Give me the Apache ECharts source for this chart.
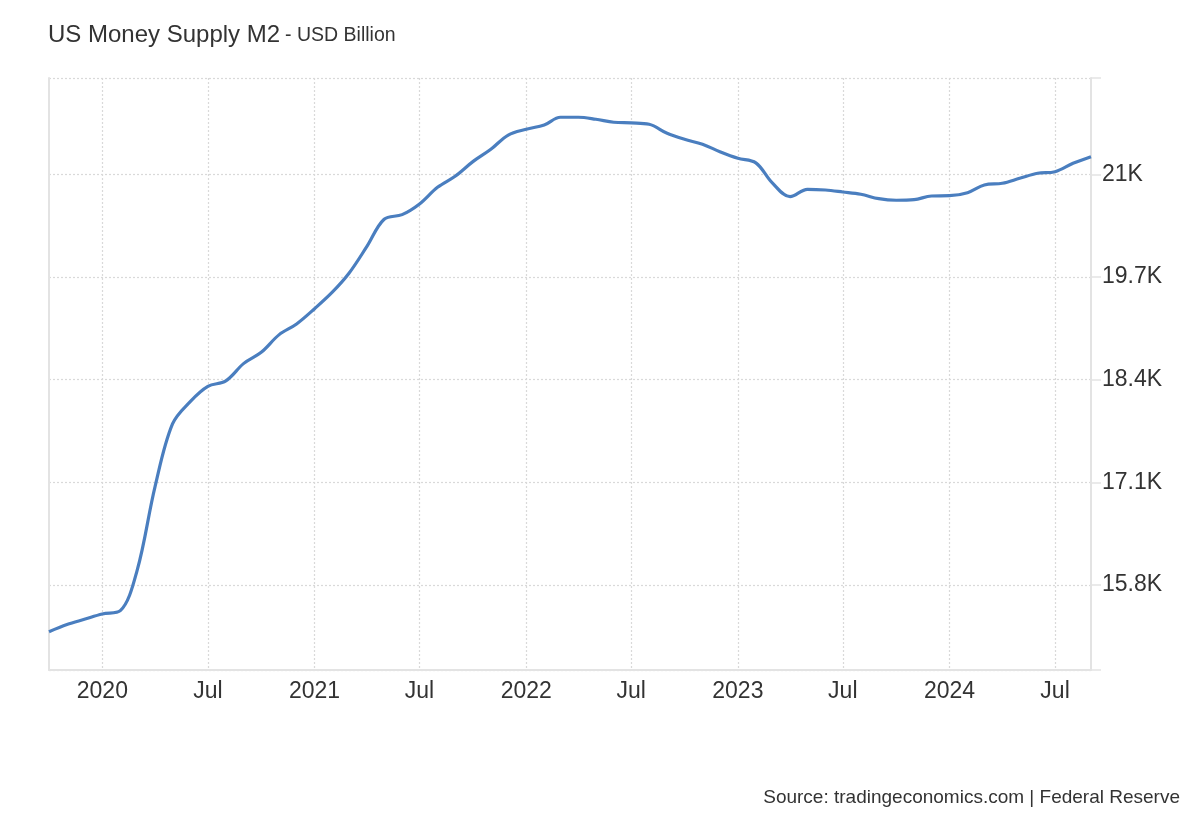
<!DOCTYPE html>
<html>
<head>
<meta charset="utf-8">
<script src="https://cdn.jsdelivr.net/npm/echarts@6/dist/echarts.min.js"></script>
<style>
html,body{margin:0;padding:0;background:#fff;}
#chart{width:1200px;height:820px;}
</style>
</head>
<body>
<div id="chart"></div>
<script>
// Monthly dates (month start) and M2 values in USD Billion
var months = [
  '2019-10-01','2019-11-01','2019-12-01',
  '2020-01-01','2020-02-01','2020-03-01','2020-04-01','2020-05-01','2020-06-01',
  '2020-07-01','2020-08-01','2020-09-01','2020-10-01','2020-11-01','2020-12-01',
  '2021-01-01','2021-02-01','2021-03-01','2021-04-01','2021-05-01','2021-06-01',
  '2021-07-01','2021-08-01','2021-09-01','2021-10-01','2021-11-01','2021-12-01',
  '2022-01-01','2022-02-01','2022-03-01','2022-04-01','2022-05-01','2022-06-01',
  '2022-07-01','2022-08-01','2022-09-01','2022-10-01','2022-11-01','2022-12-01',
  '2023-01-01','2023-02-01','2023-03-01','2023-04-01','2023-05-01','2023-06-01',
  '2023-07-01','2023-08-01','2023-09-01','2023-10-01','2023-11-01','2023-12-01',
  '2024-01-01','2024-02-01','2024-03-01','2024-04-01','2024-05-01','2024-06-01',
  '2024-07-01','2024-08-01','2024-09-01'
];
var m2Values = [
  15209, 15300, 15366,
  15433, 15475, 15985, 17049, 17839, 18125,
  18315, 18385, 18606, 18746, 18970, 19105,
  19298, 19510, 19743, 20083, 20430, 20489,
  20624, 20835, 20978, 21160, 21316, 21497,
  21570, 21624, 21722, 21722, 21697, 21659,
  21650, 21633, 21519, 21443, 21380, 21286,
  21203, 21145, 20894, 20716, 20810, 20801,
  20776, 20747, 20691, 20671, 20679, 20725,
  20729, 20767, 20865, 20886, 20949, 21013,
  21033, 21139, 21223
];
// Axis ticks
var yTickValues = [15800, 17100, 18400, 19700, 21000];
var yMin = 14724, yMax = 22219;
var xTickDates = ['2020-01-01','2020-07-01','2021-01-01','2021-07-01','2022-01-01',
                  '2022-07-01','2023-01-01','2023-07-01','2024-01-01','2024-07-01'];
var titleText = 'US Money Supply M2';
var subText = '- USD Billion';
var sourceText = 'Source: tradingeconomics.com | Federal Reserve';

function ts(s){ var p = s.split('-'); return Date.UTC(+p[0], +p[1]-1, +p[2]); }

var seriesData = months.map(function(d, i){ return [ts(d), m2Values[i]]; });
var xTicks = xTickDates.map(ts);
var FONT = '"Liberation Sans", Arial, Helvetica, sans-serif';
var gridColor = '#d9d9d9';
var axisColor = '#e3e3e3';

var chart = echarts.init(document.getElementById('chart'), null, {renderer: 'canvas'});
chart.setOption({
  backgroundColor: '#ffffff',
  animation: false,
  title: [{
    text: '{a|' + titleText + '} {b|' + subText + '}',
    left: 43, top: 16,
    textStyle: {
      fontFamily: FONT,
      fontWeight: 'normal',
      rich: {
        a: {fontSize: 24, color: '#333333', fontFamily: FONT, fontWeight: 'normal', verticalAlign: 'bottom', lineHeight: 26},
        b: {fontSize: 19.5, color: '#333333', fontFamily: FONT, fontWeight: 'normal', verticalAlign: 'bottom', lineHeight: 26, padding: [0,0,1,0]}
      }
    }
  }, {
    text: sourceText,
    right: 15, top: 783,
    textStyle: {fontFamily: FONT, fontSize: 19, fontWeight: 'normal', color: '#333333'}
  }],
  grid: {left: 49, right: 109, top: 78, bottom: 150, containLabel: false},
  xAxis: {
    type: 'value',
    min: seriesData[0][0],
    max: seriesData[seriesData.length - 1][0],
    axisLine: {show: true, lineStyle: {color: axisColor, width: 2}},
    axisTick: {show: false, customValues: xTicks},
    axisLabel: {
      customValues: xTicks,
      color: '#333333', fontFamily: FONT, fontSize: 23, margin: 10,
      formatter: function(v){
        var d = new Date(v);
        return d.getUTCMonth() === 0 ? String(d.getUTCFullYear()) : 'Jul';
      }
    },
    splitLine: {show: true, lineStyle: {color: gridColor, type: [2, 2], width: 1.2}}
  },
  yAxis: [{
    type: 'value',
    position: 'right',
    min: yMin, max: yMax,
    axisLine: {show: true, lineStyle: {color: axisColor, width: 2}},
    axisTick: {show: true, length: 10, lineStyle: {color: axisColor, width: 1.5},
               customValues: [yMin].concat(yTickValues).concat([yMax])},
    axisLabel: {
      customValues: yTickValues,
      color: '#333333', fontFamily: FONT, fontSize: 23, margin: 11,
      verticalAlign: 'middle', padding: [0,0,4,0],
      formatter: function(v){ return (v / 1000) + 'K'; }
    },
    splitLine: {show: true, lineStyle: {color: gridColor, type: [2, 2], width: 1.2}}
  }, {
    type: 'value',
    position: 'left',
    min: yMin, max: yMax,
    axisLine: {show: true, lineStyle: {color: axisColor, width: 2}},
    axisTick: {show: false},
    axisLabel: {show: false},
    splitLine: {show: false}
  }],
  series: [{
    type: 'line',
    yAxisIndex: 0,
    data: seriesData,
    smooth: 0.35,
    showSymbol: false,
    symbol: 'none',
    lineStyle: {color: '#4a7ebf', width: 3.2},
    itemStyle: {color: '#4a7ebf'}
  }]
});
</script>
</body>
</html>
